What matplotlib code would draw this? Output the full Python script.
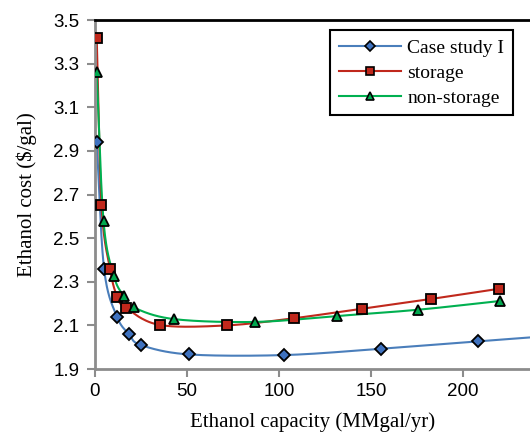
import numpy as np
import matplotlib.pyplot as plt

# Values
case_x = [1, 5, 12, 18.6, 25, 51, 103, 155.4, 208.3, 262]
case_y = [2.94, 2.36, 2.14, 2.06, 2.01, 1.967, 1.964, 1.993, 2.027, 2.061]

stor_x = [1, 3.6, 8.2, 12.1, 16.8, 35.3, 71.6, 108.3, 145.3, 182.4, 219.6]
stor_y = [3.42, 2.65, 2.36, 2.232, 2.181, 2.102, 2.100, 2.133, 2.177, 2.221, 2.268]

nons_x = [1, 4.7, 10.3, 15.6, 21, 42.9, 87.1, 131.3, 175.7, 220.1]
nons_y = [3.26, 2.579, 2.327, 2.236, 2.183, 2.129, 2.116, 2.143, 2.172, 2.212]

labels = ["Case study I", "storage", "non-storage"]


def smooth(x, y, n=30):
    # Catmull-Rom curve through the points, like a spreadsheet "smoothed line"
    p = np.column_stack([x, y]).astype(float)
    p = np.vstack([2 * p[0] - p[1], p, 2 * p[-1] - p[-2]])
    out = []
    t = np.linspace(0, 1, n)[:, None]
    for i in range(1, len(p) - 2):
        p0, p1, p2, p3 = p[i - 1], p[i], p[i + 1], p[i + 2]
        seg = 0.5 * ((2 * p1) + (-p0 + p2) * t + (2 * p0 - 5 * p1 + 4 * p2 - p3) * t**2
                     + (-p0 + 3 * p1 - 3 * p2 + p3) * t**3)
        out.append(seg)
    out = np.vstack(out)
    return out[:, 0], out[:, 1]


fig = plt.figure(figsize=(5.3, 4.38), dpi=100)
ax = fig.add_axes([0.179, 0.1575, 0.821, 0.7965])

series = [
    (case_x, case_y, "#4a7ebb", "#3f72bf", "D", 6.3),
    (stor_x, stor_y, "#c0281c", "#c0281c", "s", 7.5),
    (nons_x, nons_y, "#00b050", "#00a84f", "^", 7.5),
]
for (x, y, lc, fc, m, ms), lab in zip(series, labels):
    sx, sy = smooth(x, y)
    ax.plot(sx, sy, color=lc, lw=1.5, zorder=2)
    ax.plot(x, y, ls="none", marker=m, ms=ms, mfc=fc, mec="black", mew=1.3, zorder=3)
    ax.plot([], [], color=lc, lw=1.5, marker=m, ms=ms * 0.75, mfc=fc, mec="black",
            mew=1.2, label=lab)

ax.set_xlim(0, 236.4)
ax.set_ylim(1.9, 3.5)
ax.set_xticks([0, 50, 100, 150, 200])
ax.set_yticks([1.9, 2.1, 2.3, 2.5, 2.7, 2.9, 3.1, 3.3, 3.5])
ax.set_yticklabels(["1.9", "2.1", "2.3", "2.5", "2.7", "2.9", "3.1", "3.3", "3.5"])

for s in ["left", "bottom"]:
    ax.spines[s].set_color("#8c8c8c")
    ax.spines[s].set_linewidth(2)
ax.spines["top"].set_color("black")
ax.spines["top"].set_linewidth(2)
ax.spines["right"].set_visible(False)
ax.tick_params(direction="out", length=6, width=1.5, color="#8c8c8c",
               labelsize=13.5, pad=4)
ax.tick_params(axis="y", pad=5)
for t in ax.get_xticklabels() + ax.get_yticklabels():
    t.set_fontfamily("Liberation Sans")

ax.set_xlabel("Ethanol capacity (MMgal/yr)", family="Liberation Serif", fontsize=15, labelpad=9)
ax.set_ylabel("Ethanol cost ($/gal)", family="Liberation Serif", fontsize=15, labelpad=12)

leg = ax.legend(loc="upper right", bbox_to_anchor=(0.961, 0.971), borderaxespad=0,
                prop={"family": "Liberation Serif", "size": 14},
                fancybox=False, framealpha=1, edgecolor="black", borderpad=0.45,
                handlelength=3.2, labelspacing=0.38, handletextpad=0.3)
leg.get_frame().set_linewidth(1.5)

fig.savefig("out.png", dpi=100)
